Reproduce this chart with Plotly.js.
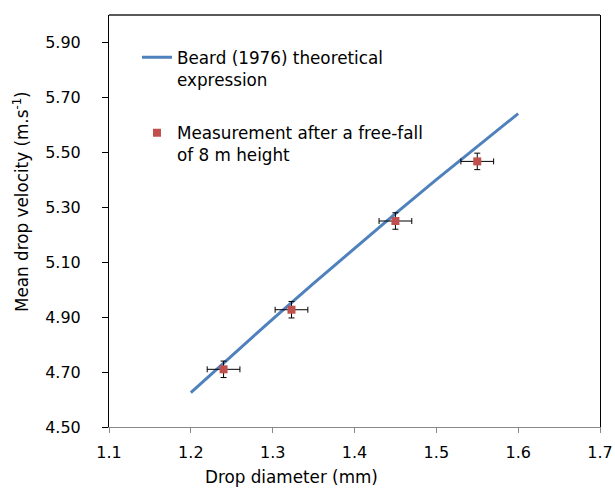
<!DOCTYPE html>
<html>
<head>
<meta charset="utf-8">
<script src="https://cdn.plot.ly/plotly-3.0.1.min.js"></script>
<style>
html,body{margin:0;padding:0;background:#fff;}
#chart{width:615px;height:488px;}
</style>
</head>
<body>
<div id="chart"></div>
<script>
// Beard (1976) theoretical expression
const lineX = [1.20, 1.25, 1.30, 1.35, 1.40, 1.45, 1.50, 1.55, 1.60];
const lineY = [4.625, 4.760, 4.893, 5.023, 5.151, 5.277, 5.401, 5.522, 5.641];
// Measurements after 8 m free-fall
const measX = [1.24, 1.323, 1.45, 1.55];
const measY = [4.71, 4.927, 5.25, 5.467];
const errX = [0.02, 0.02, 0.02, 0.02];
const errY = [0.03, 0.03, 0.03, 0.03];

const seriesNames = ["Beard (1976) theoretical<br>expression", "Measurement after a free-fall<br>of 8 m height"];
const xTitle = "Drop diameter (mm)";
const yTitle = "Mean drop velocity (m.s<sup>-1</sup>)";

const FONT = "DejaVu Sans, Verdana, sans-serif";

const traces = [
  {
    x: lineX, y: lineY, type: "scatter", mode: "lines",
    name: seriesNames[0], legendgroup: "a",
    line: {color: "#4F81BD", width: 3}
  },
  {
    x: measX, y: measY, type: "scatter", mode: "markers",
    name: seriesNames[1], legendgroup: "b",
    marker: {symbol: "square", color: "#C0504D", size: 8},
    error_x: {type: "data", array: errX, visible: true, color: "#000", thickness: 1, width: 3},
    error_y: {type: "data", array: errY, visible: true, color: "#000", thickness: 1, width: 3}
  }
];

const layout = {
  width: 615, height: 488,
  margin: {l: 109, r: 15, t: 15, b: 61},
  paper_bgcolor: "#fff", plot_bgcolor: "#fff",
  font: {family: FONT, size: 16, color: "#000"},
  showlegend: true,
  legend: {
    x: 0.057, y: 0.94, xanchor: "left", yanchor: "top",
    bgcolor: "rgba(0,0,0,0)", valign: "top",
    tracegroupgap: 29, font: {family: FONT, size: 16.8, color: "#000"}
  },
  xaxis: {
    range: [1.1, 1.7], tick0: 1.1, dtick: 0.1, tickformat: ".1f",
    showgrid: false, zeroline: false,
    showline: true, linecolor: "#888", linewidth: 1,
    ticks: "outside", ticklen: 5, tickcolor: "#888",
    ticklabelstandoff: 6,
    tickfont: {family: FONT, size: 16, color: "#000"}
  },
  yaxis: {
    range: [4.5, 6.0], tick0: 4.5, dtick: 0.2, tickformat: ".2f",
    showgrid: false, zeroline: false,
    showline: true, linecolor: "#000", linewidth: 1, mirror: true,
    ticks: "outside", ticklen: 6, tickcolor: "#000",
    ticklabelstandoff: 18,
    tickfont: {family: FONT, size: 16, color: "#000"}
  },
  shapes: [
    {type: "line", xref: "paper", yref: "paper", x0: 0, x1: 1, y0: 1, y1: 1,
     line: {color: "#222", width: 1.5}}
  ],
  annotations: [
    {text: xTitle, xref: "paper", yref: "paper", x: (291 - 109) / 491, y: -(477 - 427) / 412,
     xanchor: "center", yanchor: "middle", showarrow: false,
     font: {family: FONT, size: 16.8, color: "#000"}},
    {text: yTitle, xref: "paper", yref: "paper", x: -(109 - 21) / 491, y: (427 - 202) / 412,
     xanchor: "center", yanchor: "middle", showarrow: false, textangle: -90,
     font: {family: FONT, size: 16.8, color: "#000"}}
  ]
};

Plotly.newPlot("chart", traces, layout, {displayModeBar: false, staticPlot: true});
</script>
</body>
</html>
